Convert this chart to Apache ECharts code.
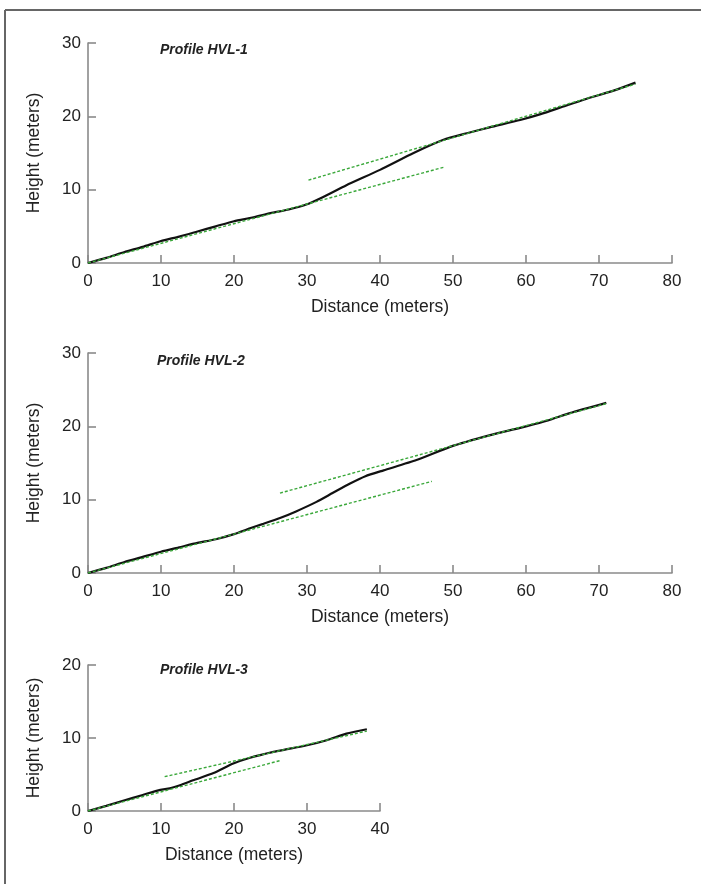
<!DOCTYPE html>
<html>
<head>
<meta charset="utf-8">
<script src="https://cdn.jsdelivr.net/npm/echarts@6/dist/echarts.min.js"></script>
<style>
html,body{margin:0;padding:0;background:#fff;}
#c{width:701px;height:884px;}
</style>
</head>
<body>
<div id="c"></div>
<script>
// ---- Data (distance m, height m) ----
const titles = ['Profile HVL-1', 'Profile HVL-2', 'Profile HVL-3'];
const xTickMax = [80, 80, 40];
const yTickMax = [30, 30, 20];

const profile1 = [[0,0],[2.5,0.7],[5,1.5],[7.5,2.2],[10,3.0],[12.5,3.6],[15,4.3],[17.5,5.0],[20,5.7],[22.5,6.2],[25,6.8],[27.5,7.3],[30,8.0],[32,8.9],[35.4,10.6],[40,12.7],[44.6,15.0],[48.7,16.8],[51.9,17.7],[55,18.5],[59.2,19.5],[62,20.3],[65,21.3],[68,22.3],[72,23.5],[75,24.6]];
const fit1Lower = [[0,0],[48.9,13.1]];
const fit1Upper = [[30.2,11.3],[75,24.4]];

const profile2 = [[0,0],[2.5,0.7],[5,1.5],[7.5,2.2],[10,2.9],[12.5,3.5],[15,4.1],[17.5,4.6],[20,5.3],[22.2,6.1],[24,6.7],[26.3,7.5],[28.5,8.4],[31.3,9.7],[33.5,10.9],[35.9,12.2],[38,13.2],[40.5,14.0],[45,15.4],[49.6,17.2],[55.1,18.8],[60,20.0],[63,20.8],[66,21.8],[71,23.2]];
const fit2Lower = [[0,0],[47.1,12.5]];
const fit2Upper = [[26.3,10.9],[71,23.1]];

const profile3 = [[0,0],[2.5,0.7],[4.8,1.4],[7.5,2.2],[9.9,2.9],[11.2,3.1],[12.8,3.6],[14.4,4.2],[17.2,5.2],[19.9,6.5],[22.2,7.3],[25.4,8.1],[27.5,8.5],[30,9.0],[32.7,9.7],[35.4,10.6],[38.2,11.2]];
const fit3Lower = [[0,0],[26.3,6.9]];
const fit3Upper = [[10.5,4.7],[38.2,10.95]];

const profiles = [profile1, profile2, profile3];
const fits = [[fit1Lower, fit1Upper],[fit2Lower, fit2Upper],[fit3Lower, fit3Upper]];

// ---- Layout ----
const FONT = '"Liberation Sans", Arial, sans-serif';
const grids = [
  {left: 88, top: 43, width: 584, height: 220},
  {left: 88, top: 353, width: 584, height: 220},
  {left: 88, top: 665, width: 292, height: 146}
];
const titlePos = [{left:160, top:43},{left:157, top:354},{left:160, top:663}];

const axisLineStyle = {color: '#8a8a8a', width: 1.6};
const labelStyle = {color: '#222', fontSize: 17, fontFamily: FONT};

const xAxes = grids.map((g, i) => ({
  type: 'value', gridIndex: i, min: 0, max: xTickMax[i], interval: 10,
  splitLine: {show: false},
  axisLine: {show: true, lineStyle: axisLineStyle},
  axisTick: {show: true, inside: true, length: 8, lineStyle: axisLineStyle},
  axisLabel: Object.assign({margin: 10}, labelStyle),
  name: 'Distance (meters)', nameLocation: 'middle', nameGap: 35,
  nameTextStyle: {color: '#222', fontSize: 17.5, fontFamily: FONT}
}));
const yAxes = grids.map((g, i) => ({
  type: 'value', gridIndex: i, min: 0, max: yTickMax[i], interval: 10,
  splitLine: {show: false},
  axisLine: {show: true, lineStyle: axisLineStyle},
  axisTick: {show: true, inside: true, length: 8, lineStyle: axisLineStyle},
  axisLabel: Object.assign({margin: 7}, labelStyle),
  name: 'Height (meters)', nameLocation: 'middle', nameGap: 45,
  nameTextStyle: {color: '#222', fontSize: 17.5, fontFamily: FONT}
}));

const series = [];
profiles.forEach((p, i) => {
  series.push({
    type: 'line', xAxisIndex: i, yAxisIndex: i, data: p,
    symbol: 'none', smooth: 0.2, silent: true,
    lineStyle: {color: '#111', width: 2.2}, z: 2
  });
});
fits.forEach((pair, i) => {
  pair.forEach(f => {
    series.push({
      type: 'line', xAxisIndex: i, yAxisIndex: i, data: f,
      symbol: 'none', silent: true,
      lineStyle: {color: '#3aa83a', width: 1.4, type: [3, 2]}, z: 3
    });
  });
});

const chart = echarts.init(document.getElementById('c'), null, {renderer: 'canvas'});
chart.setOption({
  animation: false,
  backgroundColor: '#fff',
  title: titles.map((t, i) => ({
    text: t, left: titlePos[i].left, top: titlePos[i].top, padding: 0,
    textStyle: {fontSize: 14, fontWeight: 'bold', fontStyle: 'italic', color: '#222', fontFamily: FONT}
  })),
  grid: grids,
  xAxis: xAxes,
  yAxis: yAxes,
  series: series,
  graphic: [
    {type: 'line', shape: {x1: 5, y1: 10, x2: 701, y2: 10}, style: {stroke: '#666', lineWidth: 2}},
    {type: 'line', shape: {x1: 5, y1: 10, x2: 5, y2: 884}, style: {stroke: '#666', lineWidth: 2}}
  ]
});
</script>
</body>
</html>
